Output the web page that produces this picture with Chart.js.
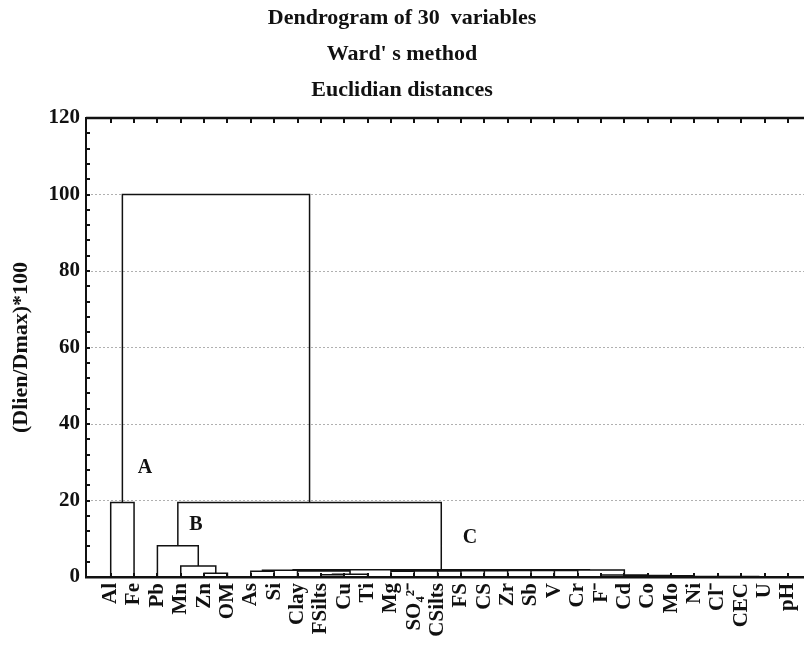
<!DOCTYPE html>
<html lang="en">

<head>
    <meta charset="UTF-8">
    <title>Dendrogram of 30 variables</title>
    <script src="https://cdn.jsdelivr.net/npm/chart.js"></script>
    <style>
        body { margin: 0; background: #fff; }
        #wrap { width: 804px; height: 647px; }
    </style>
</head>

<body>
    <div id="wrap"><canvas id="dendro"></canvas></div>
    <script>
        // leaves in the order they appear along the axis
        const leaves = ["Al", "Fe", "Pb", "Mn", "Zn", "OM", "As", "Si", "Clay", "FSilts",
            "Cu", "Ti", "Mg", "SO\u2084\u00B2\u207B", "CSilts", "FS", "CS", "Zr", "Sb", "V",
            "Cr", "F\u207B", "Cd", "Co", "Mo", "Ni", "Cl\u207B", "CEC", "U", "pH"];

        // merges: cluster ids 0..29 are leaves, merge k creates cluster 30+k
        const mergeA = [4, 3, 2, 6, 9, 34, 8, 33, 28, 27, 26, 25, 24, 23, 22, 21, 12, 46, 47, 48, 49, 50, 51, 52, 53, 37, 32, 0, 57];
        const mergeB = [5, 30, 31, 7, 10, 11, 35, 36, 29, 38, 39, 40, 41, 42, 43, 44, 13, 14, 15, 16, 17, 18, 19, 20, 45, 54, 55, 1, 56];
        const mergeH = [1.0, 2.9, 8.2, 1.5, 0.6, 0.7, 1.6, 1.75, 0.05, 0.08, 0.1, 0.12, 0.15, 0.3, 0.4, 0.5,
            1.5, 1.55, 1.6, 1.62, 1.65, 1.68, 1.7, 1.72, 1.8, 1.9, 19.5, 19.5, 100];

        // group letters
        const groupText = ["A", "B", "C"];
        const groupX = [1.47, 3.65, 15.39];
        const groupY = [28.5, 13.6, 10.2];

        const titleLines = ["Dendrogram of 30  variables", "Ward' s method", "Euclidian distances"];
        const yTitle = "(Dlien/Dmax)*100";

        // node positions (x = mean of children, y = merge height)
        const nodeX = leaves.map((_, i) => i);
        const nodeY = leaves.map(() => 0);
        const segs = [];
        mergeA.forEach((a, k) => {
            const b = mergeB[k], h = mergeH[k];
            segs.push({ x: nodeX[a], y: nodeY[a] }, { x: nodeX[a], y: h },
                { x: nodeX[b], y: h }, { x: nodeX[b], y: nodeY[b] }, { x: nodeX[b], y: null });
            nodeX.push((nodeX[a] + nodeX[b]) / 2);
            nodeY.push(h);
        });

        const serif = "'Liberation Serif', 'Times New Roman', serif";
        const ink = "#111";

        const frame = {
            id: "frame",
            afterDraw(chart) {
                const { ctx, chartArea: ca, scales: { x, y } } = chart;
                ctx.save();
                ctx.strokeStyle = ink;
                // top border
                ctx.lineWidth = 2.5;
                ctx.beginPath();
                ctx.moveTo(ca.left, ca.top);
                ctx.lineTo(ca.right, ca.top);
                ctx.stroke();
                // ticks on top and bottom at each leaf
                ctx.lineWidth = 2;
                leaves.forEach((_, i) => {
                    const px = Math.round(x.getPixelForValue(i));
                    ctx.beginPath();
                    ctx.moveTo(px, ca.top);
                    ctx.lineTo(px, ca.top + 5);
                    ctx.moveTo(px, ca.bottom);
                    ctx.lineTo(px, ca.bottom - 4);
                    ctx.stroke();
                });
                // minor ticks on the left axis
                for (let v = 4; v < 120; v += 4) {
                    const py = Math.round(y.getPixelForValue(v));
                    ctx.beginPath();
                    ctx.moveTo(ca.left, py);
                    ctx.lineTo(ca.left + 4, py);
                    ctx.stroke();
                }
                // group letters
                ctx.fillStyle = ink;
                ctx.font = "bold 20px " + serif;
                ctx.textAlign = "center";
                ctx.textBaseline = "middle";
                groupText.forEach((t, i) => {
                    ctx.fillText(t, x.getPixelForValue(groupX[i]), y.getPixelForValue(groupY[i]));
                });
                ctx.restore();
            }
        };

        new Chart("dendro", {
            type: "line",
            data: {
                datasets: [{
                    data: segs,
                    borderColor: ink,
                    borderWidth: 1.5,
                    pointRadius: 0,
                    tension: 0,
                    spanGaps: false
                }]
            },
            options: {
                responsive: true,
                maintainAspectRatio: false,
                animation: false,
                layout: { padding: 0 },
                plugins: {
                    legend: { display: false },
                    tooltip: { enabled: false },
                    title: {
                        display: true,
                        text: titleLines,
                        color: ink,
                        font: { family: serif, size: 22, weight: "bold", lineHeight: 36 / 22 },
                        padding: { top: 0, bottom: 10 }
                    }
                },
                scales: {
                    x: {
                        type: "linear",
                        min: -1.058,
                        max: 29.69,
                        afterBuildTicks: axis => { axis.ticks = leaves.map((_, i) => ({ value: i })); },
                        afterFit: axis => {
                            axis.height = 70;
                            axis.paddingLeft = 0;
                            axis.paddingRight = 0;
                        },
                        ticks: {
                            autoSkip: false,
                            minRotation: 90,
                            maxRotation: 90,
                            padding: 6,
                            color: ink,
                            font: { family: serif, size: 21, weight: "bold" },
                            callback: v => leaves[v]
                        },
                        grid: { display: false, drawTicks: false },
                        border: { display: true, color: ink, width: 2.5 }
                    },
                    y: {
                        min: 0,
                        max: 120,
                        afterFit: axis => { axis.width = 86; },
                        ticks: {
                            stepSize: 20,
                            padding: 6,
                            color: ink,
                            font: { family: serif, size: 21, weight: "bold" }
                        },
                        grid: {
                            drawTicks: false,
                            color: c => (c.tick.value === 0 || c.tick.value === 120) ? "rgba(0,0,0,0)" : "#b0b0b0",
                            lineWidth: 1
                        },
                        border: { display: true, color: ink, width: 2, dash: [2, 2] },
                        title: {
                            display: true,
                            text: yTitle,
                            color: ink,
                            font: { family: serif, size: 22, weight: "bold" },
                            padding: { top: 8, bottom: 0 }
                        }
                    }
                }
            },
            plugins: [frame]
        });
    </script>
</body>

</html>
